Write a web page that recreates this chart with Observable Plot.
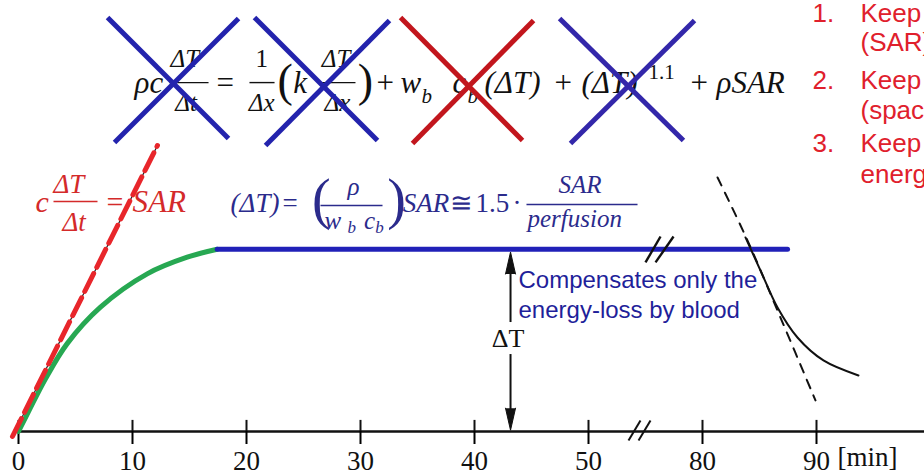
<!DOCTYPE html>
<html><head><meta charset="utf-8">
<script src="https://cdn.jsdelivr.net/npm/d3@7"></script>
<script src="https://cdn.jsdelivr.net/npm/@observablehq/plot@0.6"></script>
<style>
html,body{margin:0;padding:0;background:#fff;overflow:hidden}
#chart svg{display:block;overflow:hidden}
</style></head><body><div id="chart"></div>
<script>
// x = display position in minutes (axis broken between 50 and 80), y = temperature rise (arb. units)
const tickPos = [0, 10, 20, 30, 40, 50, 60, 70];
const tickLabels = ["0", "10", "20", "30", "40", "50", "80", "90"];

// heating curve (green) and steady state (blue)
const heatT  = [0, 0.90, 2.37, 4.27, 7.19, 11.29, 14.80, 17.43];
const heatDT = [0, 1.10, 2.85, 4.75, 6.72, 8.52, 9.42, 9.85];
const steadyT  = [17.43, 67.46];
const steadyDT = [9.85, 9.85];
// adiabatic slope c dT/dt = SAR (red dashed)
const adiabT  = [-0.53, 12.19];
const adiabDT = [-0.27, 15.46];
// cooling after switch-off (black)
const coolDashT  = [61.32, 63.95, 66.84, 69.91];
const coolDashDT = [13.73, 10.32, 6.16, 1.68];
const coolT  = [63.77, 65.09, 66.58, 68.33, 70.61, 73.68];
const coolDT = [10.49, 8.70, 6.70, 5.08, 3.84, 3.03];

const toPts = (xs, ys) => xs.map((x, i) => ({x, y: ys[i]}));

// annotation layout (data units)
const BLUE = "#2323ad", RED = "#c2161d", NAVY = "#2b2b8c", LRED = "#d42a2a", TRED = "#e0202c";
const crosses = [
  {x1: 7.81, y1: 22.38, x2: 18.42, y2: 15.84, c: BLUE}, {x1: 19.30, y1: 22.32, x2: 8.42, y2: 15.62, c: BLUE},
  {x1: 20.70, y1: 22.38, x2: 31.49, y2: 15.73, c: BLUE}, {x1: 32.54, y1: 22.22, x2: 21.67, y2: 15.46, c: BLUE},
  {x1: 33.51, y1: 22.38, x2: 44.21, y2: 15.73, c: RED},  {x1: 45.18, y1: 22.22, x2: 34.56, y2: 15.57, c: RED},
  {x1: 47.46, y1: 22.32, x2: 58.33, y2: 15.73, c: "#3327aa"}, {x1: 59.30, y1: 22.22, x2: 48.42, y2: 15.57, c: "#3327aa"}
];
const breaks = [
  {x1: 53.51, y1: -0.49, x2: 54.56, y2: 0.60}, {x1: 54.39, y1: -0.49, x2: 55.44, y2: 0.60},
  {x1: 55.00, y1: 9.14, x2: 56.32, y2: 10.54}, {x1: 55.88, y1: 9.14, x2: 57.46, y2: 10.54}
];
const fracBars = [
  {x1: 13.25, x2: 16.67, y: 18.86, c: "#111"}, {x1: 20.26, x2: 22.46, y: 18.86, c: "#111"},
  {x1: 26.49, x2: 29.56, y: 18.86, c: "#111"},
  {x1: 3.07, x2: 6.93, y: 12.43, c: LRED},
  {x1: 26.49, x2: 31.93, y: 12.22, c: NAVY}, {x1: 44.56, x2: 54.30, y: 12.27, c: NAVY}
];
// [text, x, y, fontSize, italic, color, family]
const SER = "Liberation Serif", SANS = "Liberation Sans";
const NUM = 20.16, DEN = 17.78;
const tokens = [
  // full heat equation
  ["ρc", 10.18, 18.86, 31, 1, "#111", SER], ["ΔT", 13.33, NUM, 25, 1, "#111", SER], ["Δt", 13.75, DEN, 25, 1, "#111", SER],
  ["=", 17.37, 18.81, 31, 0, "#111", SER], ["1", 20.80, NUM, 25, 0, "#111", SER], ["Δx", 20.20, DEN, 25, 1, "#111", SER],
  ["(", 22.72, 18.93, 46, 0, "#111", SER], ["k", 24.10, 18.86, 31, 1, "#111", SER],
  ["ΔT", 26.60, NUM, 25, 1, "#111", SER], ["Δx", 26.85, DEN, 25, 1, "#111", SER], [")", 29.75, 18.93, 46, 0, "#111", SER],
  ["+", 31.40, 18.81, 31, 0, "#111", SER], ["w", 33.51, 18.86, 31, 1, "#111", SER], ["b", 35.35, 18.10, 21, 1, "#111", SER],
  ["c", 38.07, 18.86, 31, 1, "#111", SER], ["b", 39.39, 18.10, 21, 1, "#111", SER], ["(ΔT)", 40.88, 18.86, 31, 1, "#111", SER],
  ["+", 47.02, 18.81, 31, 0, "#111", SER], ["(ΔT)", 49.39, 18.86, 31, 1, "#111", SER], ["1.1", 55.26, 19.41, 21, 0, "#111", SER],
  ["+", 58.95, 18.81, 31, 0, "#111", SER], ["ρSAR", 61.23, 18.86, 31, 1, "#111", SER],
  // adiabatic equation
  ["c", 1.49, 12.38, 30, 1, LRED, SER], ["ΔT", 3.07, 13.35, 27, 1, LRED, SER], ["Δt", 3.86, 11.30, 27, 1, LRED, SER],
  ["=", 7.72, 12.38, 30, 0, LRED, SER], ["SAR", 10.0, 12.38, 31, 1, LRED, SER],
  // steady-state equation
  ["(ΔT)", 18.6, 12.32, 27, 1, NAVY, SER], ["=", 23.16, 12.32, 27, 0, NAVY, SER], ["(", 25.75, 12.50, 56, 0, NAVY, SER],
  ["ρ", 28.86, 13.19, 25, 1, NAVY, SER], ["w", 26.85, 11.40, 25, 1, NAVY, SER], ["b", 28.85, 11.0, 17, 1, NAVY, SER],
  ["c", 30.30, 11.40, 25, 1, NAVY, SER], ["b", 31.30, 11.0, 17, 1, NAVY, SER], [")", 32.35, 12.50, 56, 0, NAVY, SER],
  ["SAR", 33.7, 12.32, 27, 1, NAVY, SER], ["≅", 37.81, 12.32, 27, 0, NAVY, SER], ["1.5", 40.09, 12.32, 27, 0, NAVY, SER],
  ["·", 43.33, 12.32, 27, 0, NAVY, SER], ["SAR", 47.37, 13.30, 25, 1, NAVY, SER], ["perfusion", 44.65, 11.51, 25, 1, NAVY, SER],
  // notes
  ["Compensates only the", 43.86, 8.16, 24, 0, "#1f1f9a", SANS], ["energy-loss by blood", 43.86, 6.54, 24, 0, "#1f1f9a", SANS],
  ["1.", 69.65, 22.60, 26, 0, TRED, SANS], ["Keep", 73.86, 22.60, 26, 0, TRED, SANS], ["(SAR)", 73.86, 21.03, 26, 0, TRED, SANS],
  ["2.", 69.65, 18.97, 26, 0, TRED, SANS], ["Keep", 73.86, 18.97, 26, 0, TRED, SANS], ["(spac", 73.86, 17.35, 26, 0, TRED, SANS],
  ["3.", 69.65, 15.57, 26, 0, TRED, SANS], ["Keep", 73.86, 15.57, 26, 0, TRED, SANS], ["energ", 73.86, 13.90, 26, 0, TRED, SANS],
  ["[min]", 71.84, -1.40, 27, 0, "#111", SER]
];
const arrowX = 43.16;

const textMarks = tokens.map(([t, x, y, s, it, c, f]) =>
  Plot.text([{x, y}], {x: "x", y: "y", text: () => t, fontSize: s, fontStyle: it ? "italic" : "normal",
    fill: c, fontFamily: f, textAnchor: "start", lineAnchor: "middle"}));

const chart = Plot.plot({
  width: 924, height: 475,
  marginTop: 0, marginRight: 0, marginLeft: 0, marginBottom: 44,
  x: {domain: [-18 / 11.4, 906 / 11.4], axis: null},
  y: {domain: [0, 431 / 18.5], axis: null},
  color: {type: "identity"},
  style: {background: "white", fontFamily: SER, overflow: "hidden"},
  marks: [
    Plot.ruleY([0], {x1: -0.2, x2: 79.5, stroke: "#111", strokeWidth: 2.5}),
    Plot.ruleX(tickPos, {y1: 0, y2: 0.6, stroke: "#111", strokeWidth: 2}),
    Plot.axisX(tickPos, {tickSize: 13, tickPadding: 6, strokeWidth: 2, fontSize: 27, fontFamily: SER,
      tickFormat: d => tickLabels[tickPos.indexOf(d)], label: null, fill: "#111"}),
    Plot.link(breaks.slice(0, 2), {x1: "x1", y1: "y1", x2: "x2", y2: "y2", stroke: "#111", strokeWidth: 2}),
    Plot.line(toPts(adiabT, adiabDT), {x: "x", y: "y", stroke: "#222", strokeWidth: 1.2}),
    Plot.line(toPts(heatT, heatDT), {x: "x", y: "y", stroke: "#27a852", strokeWidth: 5, curve: "catmull-rom"}),
    Plot.line(toPts(adiabT, adiabDT), {x: "x", y: "y", stroke: "#e8262b", strokeWidth: 5, strokeDasharray: "20,7"}),
    Plot.line(toPts(steadyT, steadyDT), {x: "x", y: "y", stroke: "#2020b8", strokeWidth: 5}),
    Plot.link(breaks.slice(2), {x1: "x1", y1: "y1", x2: "x2", y2: "y2", stroke: "#111", strokeWidth: 2.4}),
    Plot.line(toPts(coolDashT, coolDashDT), {x: "x", y: "y", stroke: "#111", strokeWidth: 2, strokeDasharray: "9,8", curve: "catmull-rom"}),
    Plot.line(toPts(coolT, coolDT), {x: "x", y: "y", stroke: "#111", strokeWidth: 2, curve: "catmull-rom"}),
    Plot.ruleX([arrowX], {y1: 5.89, y2: 9.0, stroke: "#111", strokeWidth: 2}),
    Plot.ruleX([arrowX], {y1: 0.5, y2: 4.16, stroke: "#111", strokeWidth: 2}),
    Plot.vector([{x: arrowX, y: 9.7, r: 0}, {x: arrowX, y: 0.07, r: 180}],
      {x: "x", y: "y", rotate: "r", length: 22, r: 5, shape: "spike", anchor: "end", fill: "#111", stroke: "#111", strokeWidth: 1}),
    Plot.text([{x: 42.94, y: 5.0}], {x: "x", y: "y", text: () => "ΔT", fontSize: 26, fontFamily: SER, fill: "#111", lineAnchor: "middle"}),
    Plot.link(fracBars, {x1: "x1", x2: "x2", y1: "y", y2: "y", stroke: "c", strokeWidth: 1.4}),
    ...textMarks,
    Plot.link(crosses, {x1: "x1", y1: "y1", x2: "x2", y2: "y2", stroke: "c", strokeWidth: 5, strokeLinecap: "butt"})
  ]
});
document.getElementById("chart").appendChild(chart);
</script></body></html>
